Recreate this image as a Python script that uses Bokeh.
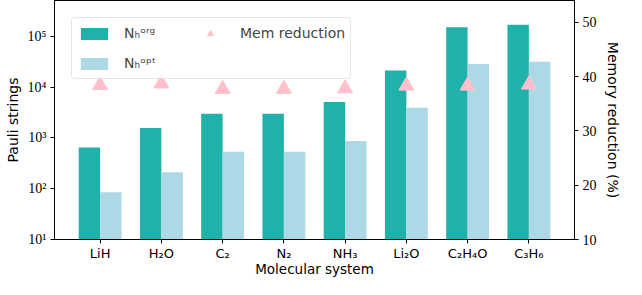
import numpy as np
from bokeh.plotting import figure
from bokeh.models import (Range1d, LinearAxis, LinearScale, FixedTicker,
                          ColumnDataSource, Legend, LegendItem)
from bokeh.embed import file_html
from bokeh.resources import INLINE

molecules = ["LiH", "H\u2082O", "C\u2082", "N\u2082", "NH\u2083", "Li\u2082O",
             "C\u2082H\u2084O", "C\u2083H\u2086"]
n_org = [650, 1580, 3000, 3000, 5100, 21200, 151000, 170000]
n_opt = [85, 212, 537, 537, 870, 3950, 28700, 31800]
mem_red = [38.4, 38.7, 37.7, 37.7, 37.8, 38.3, 38.3, 38.5]
log_ticks = [10, 100, 1000, 10000, 100000]
log_tick_labels = ["10\u00b9", "10\u00b2", "10\u00b3", "10\u2074", "10\u2075"]
right_ticks = [10, 20, 30, 40, 50]
legend_labels = ["N\u2095\u1d52\u02b3\u1d4d", "N\u2095\u1d52\u1d56\u1d57", "Mem reduction"]

idx = np.arange(len(molecules))
bw = 0.35
src = ColumnDataSource(dict(
    x_org=idx - bw / 2, x_opt=idx + bw / 2, x=idx,
    org=n_org, opt=n_opt, mem=mem_red,
))

SERIF = "Liberation Serif"
SANS = "DejaVu Sans"

p = figure(width=626, height=279, y_axis_type="log",
           x_range=Range1d(-0.745, 7.745), y_range=Range1d(10, 5.1e5),
           output_backend="svg", toolbar_location=None,
           min_border_left=54, min_border_right=52, min_border_top=0,
           min_border_bottom=30)
p.xgrid.visible = False
p.ygrid.visible = False
p.outline_line_color = "black"
p.outline_line_width = 1
p.background_fill_color = "white"
p.border_fill_color = "white"

p.extra_y_ranges = {"mem": Range1d(10, 54)}
p.extra_y_scales = {"mem": LinearScale()}

r_org = p.vbar(x="x_org", top="org", bottom=1, width=bw, source=src,
               fill_color="#20B2AA", line_color=None)
r_opt = p.vbar(x="x_opt", top="opt", bottom=1, width=bw, source=src,
               fill_color="#ADD8E6", line_color=None)
r_mem = p.scatter(x="x", y="mem", source=src, marker="triangle", size=15,
                  fill_color="#FFC0CB", line_color="#FFC0CB", y_range_name="mem")

xa = p.xaxis[0]
xa.ticker = FixedTicker(ticks=list(idx))
xa.major_label_overrides = {int(i): m for i, m in zip(idx, molecules)}
xa.axis_label = "Molecular system"

ya = p.yaxis[0]
ya.ticker = FixedTicker(ticks=log_ticks, minor_ticks=[])
ya.major_label_overrides = {t: l for t, l in zip(log_ticks, log_tick_labels)}
ya.axis_label = "Pauli strings"

ra = LinearAxis(y_range_name="mem", axis_label="Memory reduction (%)",
                ticker=FixedTicker(ticks=right_ticks, minor_ticks=[]))
p.add_layout(ra, "right")

for ax in [xa, ya, ra]:
    ax.major_tick_in = 0
    ax.major_tick_out = 4
    ax.minor_tick_in = 0
    ax.minor_tick_out = 0
    ax.axis_line_color = "black"
    ax.major_tick_line_color = "black"
    ax.axis_label_text_font = SANS
    ax.axis_label_text_font_style = "normal"
    ax.axis_label_text_font_size = "14px"
    ax.axis_label_text_color = "black"
    ax.major_label_text_color = "black"
    ax.major_label_text_font_size = "14px"
    ax.major_label_text_font = SERIF
    ax.axis_label_standoff = 5
    ax.major_label_standoff = 4

ya.axis_label_standoff = 4

xa.major_label_text_font = SANS
xa.major_label_text_font_size = "13px"
xa.major_label_standoff = 2
xa.axis_label_standoff = -3
xa.axis_label_text_font_size = "13.5px"

legend = Legend(items=[
    LegendItem(label=legend_labels[0], renderers=[r_org]),
    LegendItem(label=legend_labels[1], renderers=[r_opt]),
    LegendItem(label=legend_labels[2], renderers=[r_mem]),
], location="top_left", nrows=2, orientation="vertical")
legend.glyph_width = 34
legend.glyph_height = 15
legend.label_width = 59
legend.label_height = 20
legend.label_standoff = 13
legend.spacing = 10
legend.padding = 5
legend.margin = 17
legend.label_text_font = SANS
legend.label_text_font_size = "14px"
legend.border_line_color = "#cccccc"
legend.border_line_width = 1
legend.border_radius = 4
legend.background_fill_alpha = 0.8
p.add_layout(legend)

open("out.html", "w").write(file_html(p, INLINE))
